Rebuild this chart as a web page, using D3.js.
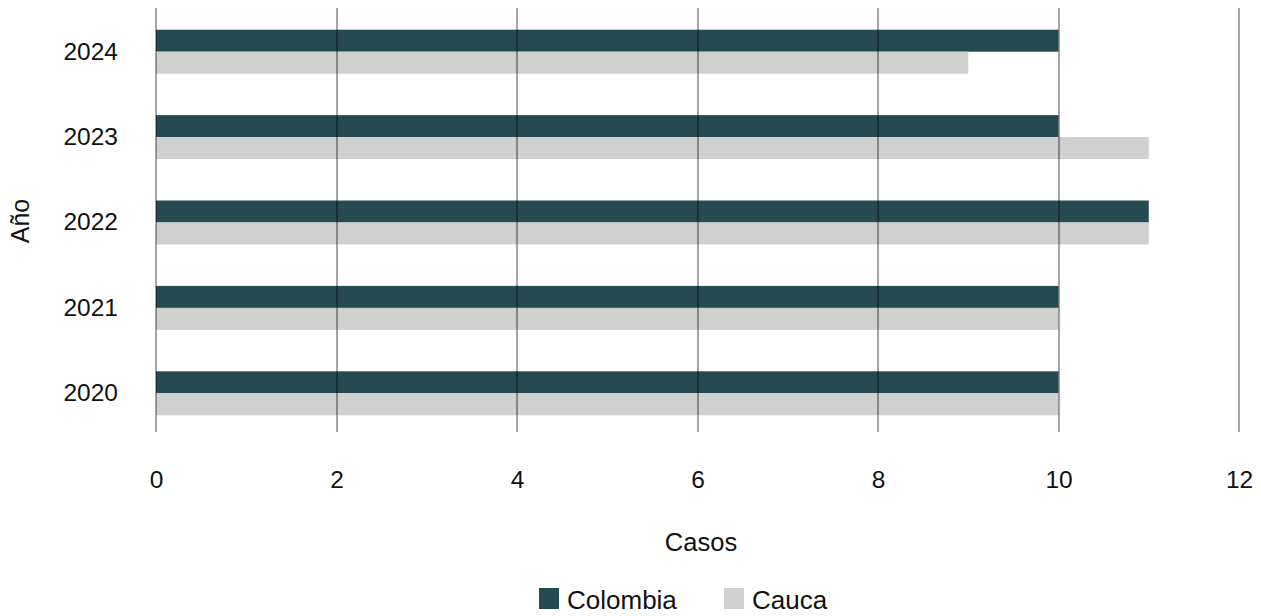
<!DOCTYPE html>
<html>
<head>
<meta charset="utf-8">
<script src="https://cdn.jsdelivr.net/npm/d3@7"></script>
<style>
  html, body { margin: 0; padding: 0; background: #fff; }
  svg { display: block; font-family: "Liberation Sans", Arial, sans-serif; }
</style>
</head>
<body>
<svg id="chart" width="1261" height="616"></svg>
<script>
const years = ["2024", "2023", "2022", "2021", "2020"];
const seriesNames = ["Colombia", "Cauca"];
const colombiaValues = [10, 10, 11, 10, 10];
const caucaValues = [9, 11, 11, 10, 10];
const xTicks = [0, 2, 4, 6, 8, 10, 12];
const colors = ["#264a52", "#d0d0d0"];

const svg = d3.select("#chart");
const x = d3.scaleLinear().domain([0, 12]).range([156, 1239]);
const y = d3.scaleBand().domain(years).range([9, 436]).paddingInner(0.485).paddingOuter(0.2425);
const ySub = d3.scaleBand().domain(seriesNames).range([0, y.bandwidth()]);
const color = d3.scaleOrdinal().domain(seriesNames).range(colors);

const rows = years.map((yr, i) => ({ year: yr, values: [colombiaValues[i], caucaValues[i]] }));

// bars
const g = svg.append("g");
rows.forEach(r => {
  seriesNames.forEach((s, j) => {
    g.append("rect")
      .attr("x", x(0))
      .attr("y", y(r.year) + ySub(s))
      .attr("width", x(r.values[j]) - x(0))
      .attr("height", ySub.bandwidth())
      .attr("fill", color(s));
  });
});

// gridlines (on top of bars)
svg.append("g").selectAll("line").data(xTicks).join("line")
  .attr("x1", d => Math.round(x(d))).attr("x2", d => Math.round(x(d)))
  .attr("y1", 8).attr("y2", 432)
  .attr("stroke", "#000").attr("stroke-opacity", 0.7).attr("stroke-width", 1);

// x tick labels
const xAxis = d3.axisBottom(x).tickValues(xTicks).tickSize(0).tickPadding(0);
const xg = svg.append("g").attr("transform", "translate(0,471)").call(xAxis);
xg.select(".domain").remove();
xg.selectAll("text").attr("font-size", 24.5).attr("fill", "#111")
  .attr("font-family", "'Liberation Sans', Arial, sans-serif").attr("dy", "0.71em");

// y tick labels
const yAxis = d3.axisLeft(y).tickSize(0).tickPadding(0);
const yg = svg.append("g").attr("transform", "translate(118,0)").call(yAxis);
yg.select(".domain").remove();
yg.selectAll("text").attr("font-size", 24.5).attr("fill", "#111")
  .attr("font-family", "'Liberation Sans', Arial, sans-serif");

// axis titles
svg.append("text").attr("x", 701).attr("y", 551).attr("text-anchor", "middle")
  .attr("font-size", 25.5).attr("fill", "#111").text("Casos");
svg.append("text").attr("transform", "translate(29,221) rotate(-90)").attr("text-anchor", "middle")
  .attr("font-size", 25).attr("fill", "#111").text("Año");

// legend
const legendX = [539, 724];
const lg = svg.append("g");
seriesNames.forEach((s, i) => {
  lg.append("rect").attr("x", legendX[i]).attr("y", 588).attr("width", 20).attr("height", 21).attr("fill", color(s));
  lg.append("text").attr("x", legendX[i] + 28).attr("y", 609).attr("font-size", 26).attr("fill", "#111").text(s);
});
</script>
</body>
</html>
